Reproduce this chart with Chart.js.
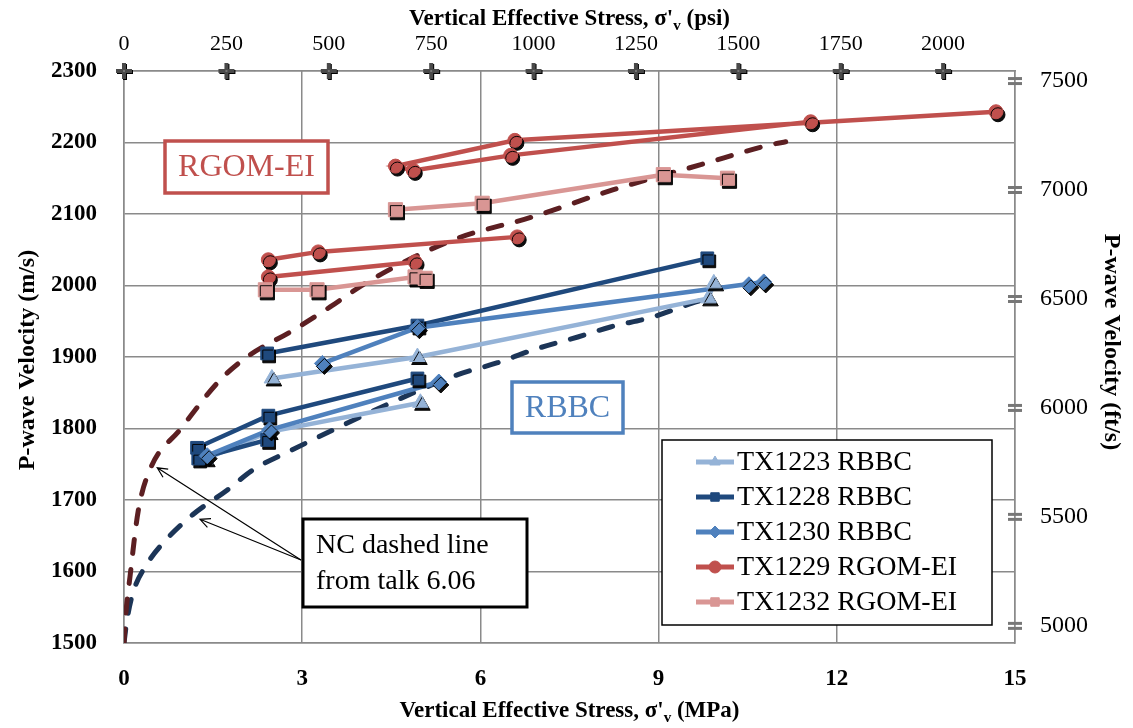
<!DOCTYPE html>
<html>
<head>
<meta charset="utf-8">
<title>P-wave velocity vs vertical effective stress</title>
<script src="https://cdn.jsdelivr.net/npm/chart.js@4.4.1/dist/chart.umd.min.js"></script>
<style>
  html, body { margin: 0; padding: 0; background: #fff; }
  canvas { display: block; }
</style>
</head>
<body>
<canvas id="vpChart" width="1133" height="728"></canvas>
<script>
// Values: stress in MPa, velocity in m/s (null = break in the line)
const seriesNames = ['TX1223 RBBC', 'TX1228 RBBC', 'TX1230 RBBC', 'TX1229 RGOM-EI', 'TX1232 RGOM-EI'];

const tx1223Stress = [2.49, 4.94, 9.84, 9.93, null, 1.37, 2.43, 4.99];
const tx1223Vp     = [1870, 1900, 1982, 2003, null, 1757, 1795, 1836];

const tx1228Stress = [2.41, 4.94, 9.82, null, 4.94, 2.43, 1.23, 1.25, 2.41];
const tx1228Vp     = [1905, 1944, 2038, null, 1870, 1818, 1773, 1758, 1784];

const tx1230Stress = [3.34, 4.94, 10.77, 10.52, null, 1.40, 2.45, 5.30];
const tx1230Vp     = [1891, 1941, 2005, 2001, null, 1762, 1798, 1865];

const tx1229Stress = [14.68, 6.58, 4.57, 4.87, 6.51, 11.56, null, 6.62, 3.27, 2.43, 2.43, 4.90];
const tx1229Vp     = [2243, 2203, 2167, 2161, 2182, 2229, null, 2068, 2047, 2036, 2012, 2033];

const tx1232Stress = [4.57, 6.03, 9.08, 10.16, null, 2.38, 3.25, 4.90, 5.07];
const tx1232Vp     = [2106, 2115, 2155, 2150, null, 1994, 1994, 2012, 2010];

// NC dashed lines (from talk 6.06)
const ncGomStress = [0, 0.03, 0.10, 0.24, 0.45, 0.94, 1.62, 2.12, 2.80, 3.47, 4.10, 5.55, 6.88, 8.24, 9.71, 10.89, 11.14];
const ncGomVp     = [1500, 1540, 1592, 1685, 1745, 1798, 1868, 1903, 1935, 1970, 2005, 2064, 2096, 2134, 2169, 2197, 2201];
const ncBbcStress = [0, 0.05, 0.15, 0.40, 0.66, 1.15, 1.74, 2.17, 2.83, 3.52, 4.55, 5.61, 6.29, 6.89, 7.64, 8.19, 8.90, 9.59, 9.75];
const ncBbcVp     = [1500, 1532, 1570, 1612, 1640, 1679, 1714, 1742, 1770, 1798, 1838, 1875, 1892, 1910, 1928, 1942, 1956, 1976, 1980];

// secondary axis ticks
const psiTicks = [0, 250, 500, 750, 1000, 1250, 1500, 1750, 2000];
const ftsTicks = [5000, 5500, 6000, 6500, 7000, 7500];

const MPA_TO_PSI = 145.038;
const MS_TO_FTS = 3.28084;
const xMin = 0, xMax = 15, yMin = 1500, yMax = 2300;

const colors = ['#95B3D7', '#1F497D', '#4F81BD', '#C0504D', '#D99694'];
const markers = ['triangle', 'rect', 'rectRot', 'circle', 'rect'];
const markerSize = [9, 9, 8, 7, 10];
const serif = '"Liberation Serif", "Times New Roman", serif';

function pairs(xs, ys) {
  return xs.map((x, i) => ({ x: x === null ? xs[i - 1] : x, y: ys[i] }));
}

const stressSets = [tx1223Stress, tx1228Stress, tx1230Stress, tx1229Stress, tx1232Stress];
const vpSets = [tx1223Vp, tx1228Vp, tx1230Vp, tx1229Vp, tx1232Vp];

// little images for the secondary axis markers
function makeCross() {
  const c = document.createElement('canvas');
  c.width = 20; c.height = 20;
  const g = c.getContext('2d');
  g.fillStyle = '#000';
  g.fillRect(9, 3, 4, 16); g.fillRect(3, 9, 16, 4);
  g.fillStyle = '#4a4a4a';
  g.fillRect(8, 2, 4, 16); g.fillRect(2, 8, 16, 4);
  g.fillStyle = '#777';
  g.fillRect(9, 9, 2, 2);
  return c;
}
function makeEquals() {
  const c = document.createElement('canvas');
  c.width = 16; c.height = 10;
  const g = c.getContext('2d');
  g.fillStyle = '#777';
  g.fillRect(1, 1, 14, 3); g.fillRect(1, 6, 14, 3);
  return c;
}

const datasets = [];

// axis markers on top (psi) and right (ft/s)
datasets.push({
  data: psiTicks.map(p => ({ x: p, y: yMax })),
  xAxisID: 'x2', yAxisID: 'y',
  pointStyle: makeCross(), pointRadius: 10, showLine: false, clip: false
});
datasets.push({
  data: ftsTicks.map(f => ({ x: xMax, y: f })),
  xAxisID: 'x', yAxisID: 'y2',
  pointStyle: makeEquals(), pointRadius: 8, showLine: false, clip: false
});

// markers (with shadow), drawn above the lines
for (let i = seriesNames.length - 1; i >= 0; i--) {
  datasets.push({
    label: seriesNames[i] + ' markers',
    data: pairs(stressSets[i], vpSets[i]),
    showLine: false,
    pointStyle: markers[i],
    pointRadius: markerSize[i],
    pointBackgroundColor: colors[i],
    pointBorderColor: colors[i],
    pointBorderWidth: 1,
    shadow: true,
    clip: false
  });
}

// the series lines
for (let i = seriesNames.length - 1; i >= 0; i--) {
  datasets.push({
    label: seriesNames[i],
    data: pairs(stressSets[i], vpSets[i]),
    showLine: true,
    borderColor: colors[i],
    borderWidth: 4.5,
    pointRadius: 0,
    spanGaps: false
  });
}

// NC dashed lines
datasets.push({
  label: 'NC RGOM-EI',
  data: pairs(ncGomStress, ncGomVp),
  showLine: true, borderColor: '#5c1f22', borderWidth: 5,
  borderDash: [14, 16], borderCapStyle: 'round',
  cubicInterpolationMode: 'monotone', pointRadius: 0
});
datasets.push({
  label: 'NC RBBC',
  data: pairs(ncBbcStress, ncBbcVp),
  showLine: true, borderColor: '#1c3557', borderWidth: 5,
  borderDash: [14, 16], borderCapStyle: 'round',
  cubicInterpolationMode: 'monotone', pointRadius: 0
});

function drawTitle(ctx, parts, cx, cy) {
  const big = 'bold 23px ' + serif, small = 'bold 15px ' + serif;
  let w = 0;
  parts.forEach(p => { ctx.font = p[1] ? small : big; w += ctx.measureText(p[0]).width; });
  let x = cx - w / 2;
  ctx.textBaseline = 'alphabetic';
  ctx.textAlign = 'left';
  parts.forEach(p => {
    ctx.font = p[1] ? small : big;
    ctx.fillText(p[0], x, cy + 8 + (p[1] ? 5 : 0));
    x += ctx.measureText(p[0]).width;
  });
}

function arrow(ctx, x1, y1, x2, y2) {
  ctx.beginPath();
  ctx.moveTo(x1, y1); ctx.lineTo(x2, y2);
  const a = Math.atan2(y2 - y1, x2 - x1);
  ctx.moveTo(x2 + 11 * Math.cos(a + Math.PI - 0.45), y2 + 11 * Math.sin(a + Math.PI - 0.45));
  ctx.lineTo(x2, y2);
  ctx.lineTo(x2 + 11 * Math.cos(a + Math.PI + 0.45), y2 + 11 * Math.sin(a + Math.PI + 0.45));
  ctx.stroke();
}

function textBox(ctx, x, y, w, h, color, lineW, lines, font, textX, lineGap) {
  ctx.fillStyle = '#fff';
  ctx.fillRect(x, y, w, h);
  ctx.strokeStyle = color;
  ctx.lineWidth = lineW;
  ctx.strokeRect(x, y, w, h);
  ctx.fillStyle = color;
  ctx.font = font;
  ctx.textBaseline = 'middle';
  ctx.textAlign = textX === undefined ? 'center' : 'left';
  const gap = lineGap || 0;
  const mid = y + h / 2 + 1;
  lines.forEach((t, i) => {
    const ty = mid + (i - (lines.length - 1) / 2) * gap;
    ctx.fillText(t, textX === undefined ? x + w / 2 : textX, ty);
  });
}

const overlay = {
  id: 'overlay',
  beforeDatasetDraw(chart, args) {
    const ds = chart.data.datasets[args.index];
    if (ds.shadow) {
      const ctx = chart.ctx;
      ctx.save();
      ctx.shadowColor = 'rgba(0,0,0,0.95)';
      ctx.shadowOffsetX = 2;
      ctx.shadowOffsetY = 3;
      ctx.shadowBlur = 0;
    }
  },
  afterDatasetDraw(chart, args) {
    if (chart.data.datasets[args.index].shadow) chart.ctx.restore();
  },
  afterDraw(chart) {
    const ctx = chart.ctx;
    const area = chart.chartArea;
    const xs = chart.scales.x, ys = chart.scales.y;
    const cx = (area.left + area.right) / 2;
    ctx.save();
    ctx.fillStyle = '#000';

    // axis titles
    drawTitle(ctx, [['Vertical Effective Stress, \u03c3\'', false], ['v', true], [' (psi)', false]], cx, 17);
    drawTitle(ctx, [['Vertical Effective Stress, \u03c3\'', false], ['v', true], [' (MPa)', false]], cx, 709);
    ctx.font = 'bold 24px ' + serif;
    ctx.textAlign = 'center';
    ctx.textBaseline = 'middle';
    ctx.save();
    ctx.translate(28, 360);
    ctx.rotate(-Math.PI / 2);
    ctx.fillText('P-wave Velocity (m/s)', 0, 0);
    ctx.restore();
    ctx.save();
    ctx.translate(1111, 342);
    ctx.rotate(Math.PI / 2);
    ctx.fillText('P-wave Velocity (ft/s)', 0, 0);
    ctx.restore();

    // group labels
    textBox(ctx, 165, 141, 163, 52, '#C0504D', 3.5, ['RGOM-EI'], '32px ' + serif);
    textBox(ctx, 512, 382, 111, 51, '#4F81BD', 3.5, ['RBBC'], '32px ' + serif);

    // NC note with arrows
    ctx.strokeStyle = '#000';
    ctx.lineWidth = 1.2;
    arrow(ctx, 301, 560, xs.getPixelForValue(0.56), ys.getPixelForValue(1745));
    arrow(ctx, 301, 560, xs.getPixelForValue(1.28), ys.getPixelForValue(1673));
    textBox(ctx, 303, 519, 224, 88, '#000', 3, ['NC dashed line', 'from talk 6.06'], '28px ' + serif, 316, 36);

    // legend
    const lx = 662, ly = 440, lw = 330, lh = 185;
    ctx.fillStyle = '#fff';
    ctx.fillRect(lx, ly, lw, lh);
    ctx.strokeStyle = '#000';
    ctx.lineWidth = 1.5;
    ctx.strokeRect(lx, ly, lw, lh);
    seriesNames.forEach((name, i) => {
      const y = 462 + i * 35;
      ctx.strokeStyle = colors[i];
      ctx.lineWidth = 5;
      ctx.beginPath();
      ctx.moveTo(696, y); ctx.lineTo(734, y);
      ctx.stroke();
      ctx.fillStyle = colors[i];
      ctx.lineWidth = 1;
      Chart.helpers.drawPoint(ctx, { pointStyle: markers[i], radius: 6, borderWidth: 1, rotation: 0 }, 715, y);
      ctx.fillStyle = '#000';
      ctx.font = '28px ' + serif;
      ctx.textAlign = 'left';
      ctx.textBaseline = 'middle';
      ctx.fillText(name, 737, y + 1);
    });
    ctx.restore();
  }
};

const gridColor = '#8a8a8a';

new Chart(document.getElementById('vpChart'), {
  type: 'scatter',
  data: { datasets: datasets },
  options: {
    responsive: false,
    animation: false,
    devicePixelRatio: 1,
    layout: { padding: 0 },
    plugins: { legend: { display: false }, tooltip: { enabled: false } },
    scales: {
      x: {
        type: 'linear', position: 'bottom', min: xMin, max: xMax,
        ticks: { stepSize: 3, padding: 22, color: '#000', font: { family: serif, size: 23, weight: 'bold' } },
        grid: { color: gridColor, lineWidth: 1.5, drawTicks: false },
        border: { color: gridColor, width: 1.5 },
        afterFit: s => { s.height = 85; }
      },
      x2: {
        type: 'linear', position: 'top', min: 0, max: xMax * MPA_TO_PSI,
        afterBuildTicks: s => { s.ticks = psiTicks.map(v => ({ value: v })); },
        ticks: { padding: 14, color: '#000', font: { family: serif, size: 22 }, callback: v => String(v) },
        grid: { display: false, drawTicks: false },
        border: { display: true, color: gridColor, width: 1.5 },
        afterFit: s => { s.height = 71; }
      },
      y: {
        type: 'linear', position: 'left', min: yMin, max: yMax,
        ticks: { stepSize: 100, padding: 27, color: '#000', font: { family: serif, size: 23, weight: 'bold' }, callback: v => String(v) },
        grid: { color: gridColor, lineWidth: 1.5, drawTicks: false },
        border: { color: gridColor, width: 1.5 },
        afterFit: s => { s.width = 124; }
      },
      y2: {
        type: 'linear', position: 'right', min: yMin * MS_TO_FTS, max: yMax * MS_TO_FTS,
        afterBuildTicks: s => { s.ticks = ftsTicks.map(v => ({ value: v })); },
        ticks: { padding: 25, color: '#000', font: { family: serif, size: 24 }, callback: v => String(v) },
        grid: { display: false, drawTicks: false },
        border: { display: true, color: gridColor, width: 1.5 },
        afterFit: s => { s.width = 118; }
      }
    }
  },
  plugins: [overlay]
});
</script>
</body>
</html>
